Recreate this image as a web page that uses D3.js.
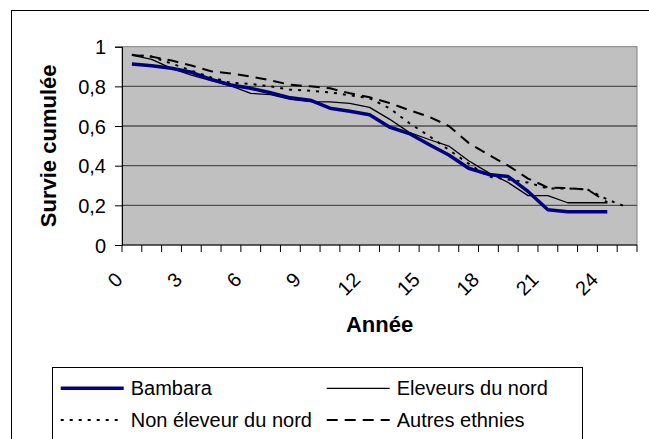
<!DOCTYPE html>
<html>
<head>
<meta charset="utf-8">
<style>
body { margin: 0; background: #fff; }
svg text { font-family: "Liberation Sans", Arial, sans-serif; fill: #000; }
</style>
</head>
<body>
<svg id="chart" width="649" height="439"></svg>
<script src="https://d3js.org/d3.v7.min.js"></script>
<script>

// years 0..25
var years = d3.range(26);
var xLabels = [0, 3, 6, 9, 12, 15, 18, 21, 24];
var yTicks = [0, 0.2, 0.4, 0.6, 0.8, 1];

var bambara = [0.913, 0.904, 0.891, 0.871, 0.835, 0.807, 0.79, 0.768, 0.742, 0.73, 0.69, 0.674, 0.657,
               0.595, 0.562, 0.507, 0.454, 0.387, 0.356, 0.345, 0.27, 0.178, 0.168, 0.168, 0.168];
var eleveurs = [0.958, 0.936, 0.891, 0.857, 0.829, 0.802, 0.765, 0.758, 0.735, 0.723, 0.722, 0.714, 0.694,
                0.635, 0.568, 0.532, 0.499, 0.425, 0.365, 0.315, 0.249, 0.249, 0.213, 0.213, 0.213];
var nonEleveur = [0.96, 0.95, 0.915, 0.88, 0.845, 0.818, 0.812, 0.80, 0.783, 0.778, 0.77, 0.755, 0.74,
                  0.69, 0.615, 0.55, 0.48, 0.41, 0.345, 0.33, 0.315, 0.285, 0.285, 0.28, 0.23, 0.19];
var autres = [0.958, 0.95, 0.93, 0.905, 0.876, 0.865, 0.85, 0.83, 0.808, 0.80, 0.79, 0.765, 0.745,
              0.716, 0.68, 0.647, 0.60, 0.515, 0.455, 0.40, 0.335, 0.29, 0.287, 0.28, 0.215];

var series = [
  {name: "Non éleveur du nord", values: nonEleveur, color: "#000", width: 2, dash: "3,6"},
  {name: "Autres ethnies", values: autres, color: "#000", width: 2, dash: "11,7"},
  {name: "Eleveurs du nord", values: eleveurs, color: "#000", width: 1.3, dash: null},
  {name: "Bambara", values: bambara, color: "#000080", width: 3.5, dash: null}
];

var svg = d3.select("#chart");

// chart border
svg.append("rect")
  .attr("x", 11.5).attr("y", 10.5)
  .attr("width", 700).attr("height", 500)
  .attr("fill", "#fff").attr("stroke", "#000");

var pLeft = 122, pRight = 637, pTop = 46.7, pBottom = 245;

var x = d3.scaleBand().domain(years).range([pLeft, pRight]).padding(0);
var y = d3.scaleLinear().domain([0, 1]).range([pBottom, pTop]);

// plot background
svg.append("rect")
  .attr("x", pLeft).attr("y", pTop)
  .attr("width", pRight - pLeft).attr("height", pBottom - pTop)
  .attr("fill", "#c0c0c0").attr("stroke", "#808080");

// gridlines
svg.append("g").selectAll("line")
  .data(yTicks.filter(function(d) { return d > 0 && d < 1; }))
  .enter().append("line")
  .attr("x1", pLeft).attr("x2", pRight)
  .attr("y1", function(d) { return y(d); })
  .attr("y2", function(d) { return y(d); })
  .attr("stroke", "#505050").attr("stroke-width", 1.3);

// y axis
var yAxis = svg.append("g")
  .attr("transform", "translate(" + pLeft + ",0)")
  .call(d3.axisLeft(y).tickValues(yTicks).tickSize(7).tickPadding(9)
    .tickFormat(function(d) { return String(d).replace(".", ","); }));
yAxis.selectAll("text").style("font-size", "20px").attr("dy", "0.35em");
yAxis.selectAll("line, path").attr("stroke", "#000");

// x axis (ticks between categories)
var xg = svg.append("g");
xg.append("line")
  .attr("x1", pLeft).attr("x2", pRight)
  .attr("y1", pBottom).attr("y2", pBottom)
  .attr("stroke", "#000");
xg.selectAll(".tk")
  .data(years.concat([years.length]))
  .enter().append("line")
  .attr("class", "tk")
  .attr("x1", function(d) { return d < years.length ? x(d) : x(years.length - 1) + x.bandwidth(); })
  .attr("x2", function(d) { return d < years.length ? x(d) : x(years.length - 1) + x.bandwidth(); })
  .attr("y1", pBottom).attr("y2", pBottom + 7)
  .attr("stroke", "#000");
xg.selectAll(".lbl")
  .data(xLabels)
  .enter().append("text")
  .attr("class", "lbl")
  .attr("text-anchor", "end")
  .style("font-size", "20px")
  .attr("transform", function(d) {
    return "translate(" + (x(d) + x.bandwidth() / 2 - 8) + "," + (pBottom + 36) + ") rotate(-45)";
  })
  .text(function(d) { return d; });

// axis titles
svg.append("text")
  .attr("x", (pLeft + pRight) / 2).attr("y", 331.5)
  .attr("text-anchor", "middle")
  .style("font-size", "22px").style("font-weight", "bold")
  .text("Année");
svg.append("text")
  .attr("transform", "translate(55.5," + ((pTop + pBottom) / 2) + ") rotate(-90)")
  .attr("text-anchor", "middle")
  .style("font-size", "22px").style("font-weight", "bold")
  .text("Survie cumulée");

// lines
var line = d3.line()
  .x(function(d, i) { return x(i) + x.bandwidth() / 2; })
  .y(function(d) { return y(d); });

svg.append("g").selectAll("path")
  .data(series)
  .enter().append("path")
  .attr("d", function(s) { return line(s.values); })
  .attr("fill", "none")
  .attr("stroke", function(s) { return s.color; })
  .attr("stroke-width", function(s) { return s.width; })
  .attr("stroke-dasharray", function(s) { return s.dash; })
  .attr("stroke-linejoin", "round");

// legend
var legendOrder = ["Bambara", "Eleveurs du nord", "Non éleveur du nord", "Autres ethnies"];
var lg = svg.append("g");
lg.append("rect")
  .attr("x", 52.5).attr("y", 367.5)
  .attr("width", 530).attr("height", 100)
  .attr("fill", "#fff").attr("stroke", "#000");

var cols = [60.7, 326.7];
var rows = [388.3, 420];
legendOrder.forEach(function(name, k) {
  var s = series.find(function(d) { return d.name === name; });
  var cx = cols[k % 2], cy = rows[Math.floor(k / 2)];
  lg.append("line")
    .attr("x1", cx).attr("x2", cx + 63)
    .attr("y1", cy).attr("y2", cy)
    .attr("stroke", s.color)
    .attr("stroke-width", s.width)
    .attr("stroke-dasharray", s.dash);
  lg.append("text")
    .attr("x", cx + 70).attr("y", cy + 6.5)
    .style("font-size", "20px")
    .text(s.name);
});

</script>
</body>
</html>
